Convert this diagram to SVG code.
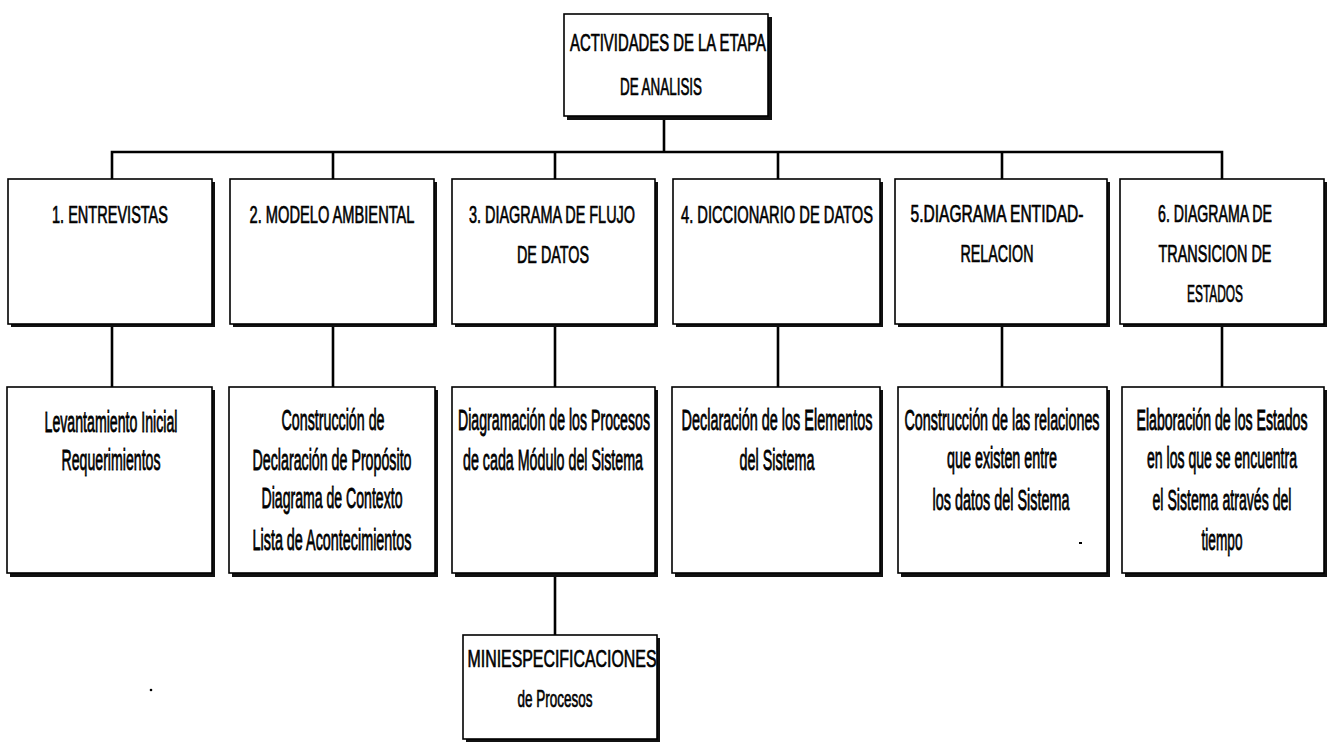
<svg xmlns="http://www.w3.org/2000/svg" width="1334" height="745" viewBox="0 0 1334 745">
  <style>
    .box { fill: #fff; stroke: #000; stroke-width: 1.6; }
    .shadow { fill: #111; }
    .wire { fill: none; stroke: #000; stroke-width: 2.6; stroke-linecap: square; }
    text { font-family: "Liberation Sans Narrow", "Liberation Sans", Arial, sans-serif; font-size: 17.5px; fill: #000; text-anchor: middle; stroke: #000; stroke-width: 0.5; }
  </style>
  <rect width="1334" height="745" fill="#fff"/>

  <!-- connectors -->
  <g id="connectors">
    <path class="wire" d="M664 120 V152 M112 152 H1222 M112 152 V179 M333 152 V179 M555 152 V179 M778 152 V179 M1002 152 V179 M1222 152 V179"/>
    <path class="wire" d="M112 327 V387 M333 327 V387 M555 327 V387 M778 327 V387 M1002 327 V387 M1222 327 V387"/>
    <path class="wire" d="M555 577 V635"/>
  </g>

  <!-- root; captions are tall condensed type: small size stretched vertically -->
  <g id="root">
    <rect class="shadow" x="567" y="17" width="205" height="103"/>
    <rect class="box" x="564" y="14" width="204" height="102"/>
    <text transform="translate(668 51) scale(1 1.4)" textLength="196" lengthAdjust="spacingAndGlyphs">ACTIVIDADES DE LA ETAPA</text>
    <text transform="translate(661 95) scale(1 1.4)" textLength="82" lengthAdjust="spacingAndGlyphs">DE ANALISIS</text>
  </g>

  <!-- first level -->
  <g id="n1">
    <rect class="shadow" x="11" y="182" width="204" height="145"/>
    <rect class="box" x="8" y="179" width="204" height="145"/>
    <text transform="translate(110 223) scale(1 1.4)" textLength="116" lengthAdjust="spacingAndGlyphs">1. ENTREVISTAS</text>
  </g>
  <g id="n2">
    <rect class="shadow" x="233" y="182" width="204" height="145"/>
    <rect class="box" x="230" y="179" width="204" height="145"/>
    <text transform="translate(332 223) scale(1 1.4)" textLength="165" lengthAdjust="spacingAndGlyphs">2. MODELO AMBIENTAL</text>
  </g>
  <g id="n3">
    <rect class="shadow" x="455" y="182" width="203" height="145"/>
    <rect class="box" x="452" y="179" width="203" height="145"/>
    <text transform="translate(552 223) scale(1 1.4)" textLength="166" lengthAdjust="spacingAndGlyphs">3. DIAGRAMA DE FLUJO</text>
    <text transform="translate(553 263) scale(1 1.4)" textLength="72" lengthAdjust="spacingAndGlyphs">DE DATOS</text>
  </g>
  <g id="n4">
    <rect class="shadow" x="676" y="182" width="207" height="145"/>
    <rect class="box" x="673" y="179" width="207" height="145"/>
    <text transform="translate(777 223) scale(1 1.4)" textLength="192" lengthAdjust="spacingAndGlyphs">4. DICCIONARIO DE DATOS</text>
  </g>
  <g id="n5">
    <rect class="shadow" x="898" y="182" width="212" height="145"/>
    <rect class="box" x="895" y="179" width="212" height="145"/>
    <text transform="translate(997 222) scale(1 1.4)" textLength="173" lengthAdjust="spacingAndGlyphs">5.DIAGRAMA ENTIDAD-</text>
    <text transform="translate(997 262) scale(1 1.4)" textLength="73" lengthAdjust="spacingAndGlyphs">RELACION</text>
  </g>
  <g id="n6">
    <rect class="shadow" x="1123" y="182" width="204" height="145"/>
    <rect class="box" x="1120" y="179" width="204" height="145"/>
    <text transform="translate(1215 222) scale(1 1.4)" textLength="114" lengthAdjust="spacingAndGlyphs">6. DIAGRAMA DE</text>
    <text transform="translate(1215 262) scale(1 1.4)" textLength="113" lengthAdjust="spacingAndGlyphs">TRANSICION DE</text>
    <text transform="translate(1215 302) scale(1 1.4)" textLength="56" lengthAdjust="spacingAndGlyphs">ESTADOS</text>
  </g>

  <!-- second level -->
  <g id="d1">
    <rect class="shadow" x="10" y="390" width="205" height="187"/>
    <rect class="box" x="7" y="387" width="205" height="186"/>
    <text transform="translate(111 432) scale(1 1.7)" textLength="133" lengthAdjust="spacingAndGlyphs">Levantamiento Inicial</text>
    <text transform="translate(111 470) scale(1 1.7)" textLength="99" lengthAdjust="spacingAndGlyphs">Requerimientos</text>
  </g>
  <g id="d2">
    <rect class="shadow" x="232" y="390" width="206" height="187"/>
    <rect class="box" x="229" y="387" width="206" height="186"/>
    <text transform="translate(333 430) scale(1 1.7)" textLength="103" lengthAdjust="spacingAndGlyphs">Construcción de</text>
    <text transform="translate(332 470) scale(1 1.7)" textLength="159" lengthAdjust="spacingAndGlyphs">Declaración de Propósito</text>
    <text transform="translate(332 508) scale(1 1.7)" textLength="141" lengthAdjust="spacingAndGlyphs">Diagrama de Contexto</text>
    <text transform="translate(332 550) scale(1 1.7)" textLength="159" lengthAdjust="spacingAndGlyphs">Lista de Acontecimientos</text>
  </g>
  <g id="d3">
    <rect class="shadow" x="455" y="390" width="203" height="187"/>
    <rect class="box" x="452" y="387" width="203" height="186"/>
    <text transform="translate(554 430) scale(1 1.7)" textLength="192" lengthAdjust="spacingAndGlyphs">Diagramación de los Procesos</text>
    <text transform="translate(553 470) scale(1 1.7)" textLength="180" lengthAdjust="spacingAndGlyphs">de cada Módulo del Sistema</text>
  </g>
  <g id="d4">
    <rect class="shadow" x="675" y="390" width="208" height="187"/>
    <rect class="box" x="672" y="387" width="208" height="186"/>
    <text transform="translate(777 430) scale(1 1.7)" textLength="191" lengthAdjust="spacingAndGlyphs">Declaración de los Elementos</text>
    <text transform="translate(777 470) scale(1 1.7)" textLength="75" lengthAdjust="spacingAndGlyphs">del Sistema</text>
  </g>
  <g id="d5">
    <rect class="shadow" x="901" y="390" width="209" height="187"/>
    <rect class="box" x="898" y="387" width="209" height="186"/>
    <text transform="translate(1002 430) scale(1 1.7)" textLength="195" lengthAdjust="spacingAndGlyphs">Construcción de las relaciones</text>
    <text transform="translate(1002 468) scale(1 1.7)" textLength="110" lengthAdjust="spacingAndGlyphs">que existen entre</text>
    <text transform="translate(1001 510) scale(1 1.7)" textLength="137" lengthAdjust="spacingAndGlyphs">los datos del Sistema</text>
    <rect x="1079" y="542" width="3" height="2" fill="#000"/>
  </g>
  <g id="d6">
    <rect class="shadow" x="1125" y="390" width="202" height="187"/>
    <rect class="box" x="1122" y="387" width="202" height="186"/>
    <text transform="translate(1222 430) scale(1 1.9)" style="font-size:15.7px" textLength="171" lengthAdjust="spacingAndGlyphs">Elaboración de los Estados</text>
    <text transform="translate(1222 468) scale(1 1.7)" textLength="150" lengthAdjust="spacingAndGlyphs">en los que se encuentra</text>
    <text transform="translate(1222 510) scale(1 1.7)" textLength="139" lengthAdjust="spacingAndGlyphs">el Sistema através del</text>
    <text transform="translate(1222 550) scale(1 1.7)" textLength="41" lengthAdjust="spacingAndGlyphs">tiempo</text>
  </g>

  <!-- third level -->
  <g id="m3">
    <rect class="shadow" x="466" y="638" width="194" height="104"/>
    <rect class="box" x="463" y="635" width="194" height="104"/>
    <text transform="translate(562 667) scale(1 1.4)" textLength="189" lengthAdjust="spacingAndGlyphs">MINIESPECIFICACIONES</text>
    <text transform="translate(555 707) scale(1 1.4)" textLength="75" lengthAdjust="spacingAndGlyphs">de Procesos</text>
  </g>

  <circle cx="151" cy="690" r="1.3" fill="#000"/>
</svg>
